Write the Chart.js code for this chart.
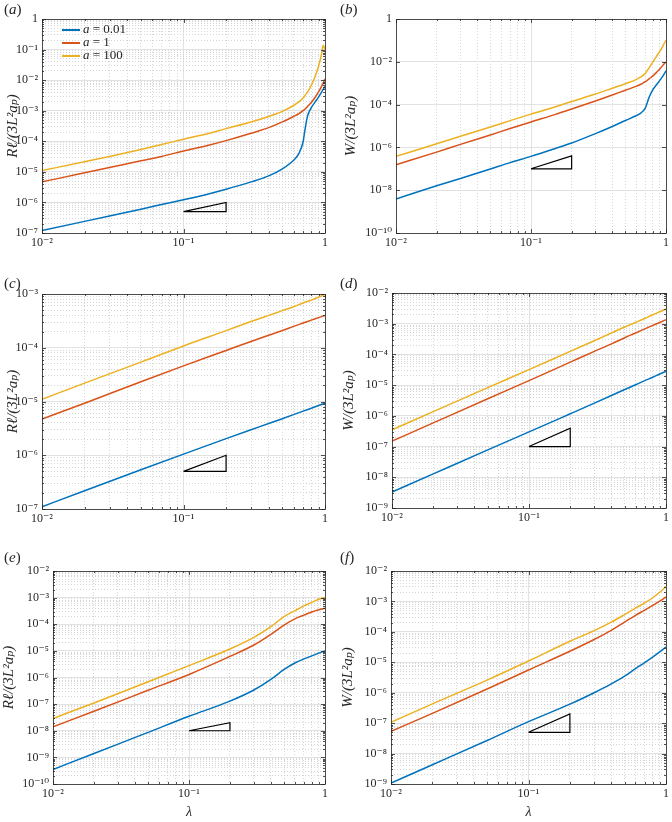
<!DOCTYPE html>
<html lang="en">
<head>
<meta charset="UTF-8">
<title>R and W versus lambda</title>
<script src="https://cdn.jsdelivr.net/npm/chart.js@4.4.1/dist/chart.umd.min.js"></script>
<style>
    body { margin: 0; background: #fff; }
    #fig { position: relative; width: 672px; height: 822px; font-family: 'Liberation Serif', 'DejaVu Serif', serif; color: #262626; }
    .panel { position: absolute; width: 336px; height: 274px; }
    .tag { position: absolute; font-size: 15px; line-height: 15px; }
    .legend { position: absolute; font-size: 13px; line-height: 13px; }
    .legend div { height: 13px; white-space: nowrap; }
    .legend span.sw { display: inline-block; width: 18px; height: 1.5px; vertical-align: middle; margin-right: 3px; }
</style>
</head>
<body>
<div id="fig"></div>
<script>
    // lambda samples
    const lamFine = [0.01, 0.02, 0.03, 0.05, 0.07, 0.1, 0.15, 0.2, 0.3, 0.4, 0.5, 0.6, 0.65, 0.7, 0.72, 0.75, 0.8, 0.85, 0.9, 0.95, 0.97, 1];
    const lamCoarse = [0.01, 0.02, 0.05, 0.1, 0.2, 0.3, 0.4, 0.5, 0.6, 0.7, 0.8, 0.9, 1];

    const aValues = ['0.01', '1', '100'];
    const seriesColors = ['#0072BD', '#D95319', '#EDB120'];

    // (a) R l/(3L^2 a_p), lamFine
    const aBlue = [1.2e-7, 2.4e-7, 3.6e-7, 6.0e-7, 8.5e-7, 1.23e-6, 1.9e-6, 2.7e-6, 4.7e-6, 7.4e-6, 1.26e-5, 2.4e-5, 3.8e-5, 9.5e-5, 2.2e-4, 6.3e-4, 1.26e-3, 1.9e-3, 2.8e-3, 4.2e-3, 5.0e-3, 6.3e-3];
    const aRed = [4.7e-6, 9.3e-6, 1.38e-5, 2.3e-5, 3.2e-5, 4.8e-5, 7.4e-5, 1.05e-4, 1.82e-4, 2.8e-4, 4.3e-4, 6.5e-4, 7.9e-4, 1.0e-3, 1.12e-3, 1.35e-3, 1.86e-3, 2.7e-3, 4.1e-3, 6.5e-3, 7.9e-3, 1.1e-2];
    const aYellow = [1.1e-5, 2.15e-5, 3.2e-5, 5.4e-5, 7.8e-5, 1.17e-4, 1.8e-4, 2.6e-4, 4.3e-4, 6.5e-4, 9.5e-4, 1.48e-3, 1.9e-3, 2.6e-3, 3.1e-3, 4.0e-3, 6.8e-3, 1.3e-2, 2.8e-2, 7.9e-2, 0.138, 0.1];

    // (b) W/(3L^2 a_p), lamFine
    const bBlue = [3.9e-9, 1.6e-8, 3.5e-8, 9.8e-8, 1.95e-7, 3.8e-7, 8.7e-7, 1.6e-6, 4.4e-6, 9.5e-6, 1.8e-5, 3.0e-5, 4.0e-5, 6.6e-5, 1.05e-4, 2.2e-4, 5.0e-4, 8.5e-4, 1.35e-3, 2.2e-3, 2.75e-3, 3.8e-3];
    const bRed = [1.55e-7, 6.0e-7, 1.38e-6, 3.8e-6, 7.6e-6, 1.55e-5, 3.4e-5, 6.2e-5, 1.48e-4, 2.8e-4, 4.7e-4, 7.1e-4, 8.9e-4, 1.18e-3, 1.3e-3, 1.6e-3, 2.2e-3, 3.2e-3, 4.6e-3, 7.0e-3, 8.1e-3, 9.8e-3];
    const bYellow = [3.8e-7, 1.48e-6, 3.3e-6, 8.9e-6, 1.78e-5, 3.6e-5, 7.7e-5, 1.4e-4, 3.1e-4, 5.8e-4, 9.5e-4, 1.48e-3, 1.95e-3, 2.8e-3, 3.6e-3, 5.2e-3, 1.0e-2, 1.8e-2, 3.1e-2, 5.6e-2, 7.3e-2, 0.1];

    // (c) lamCoarse
    const cBlue = [1.1e-7, 2.19e-7, 5.37e-7, 1.05e-6, 2.04e-6, 2.99e-6, 3.89e-6, 4.79e-6, 5.69e-6, 6.61e-6, 7.5e-6, 8.41e-6, 9.33e-6];
    const cRed = [4.7e-6, 9.3e-6, 2.33e-5, 4.6e-5, 8.9e-5, 1.31e-4, 1.71e-4, 2.1e-4, 2.5e-4, 2.88e-4, 3.26e-4, 3.63e-4, 4.0e-4];
    const cYellow = [1.1e-5, 2.2e-5, 5.4e-5, 1.08e-4, 2.08e-4, 3.07e-4, 4.0e-4, 4.9e-4, 5.8e-4, 6.8e-4, 7.7e-4, 8.7e-4, 9.8e-4];

    // (d) lamCoarse
    const dBlue = [3.3e-9, 1.29e-8, 7.8e-8, 3.0e-7, 1.17e-6, 2.6e-6, 4.6e-6, 7.2e-6, 1.03e-5, 1.4e-5, 1.8e-5, 2.3e-5, 2.8e-5];
    const dRed = [1.5e-7, 5.9e-7, 3.6e-6, 1.4e-5, 5.6e-5, 1.26e-4, 2.2e-4, 3.5e-4, 5.0e-4, 6.8e-4, 8.8e-4, 1.1e-3, 1.35e-3];
    const dYellow = [3.5e-7, 1.38e-6, 8.3e-6, 3.2e-5, 1.26e-4, 2.8e-4, 5.0e-4, 7.8e-4, 1.1e-3, 1.48e-3, 1.95e-3, 2.45e-3, 3.0e-3];

    // (e) lamCoarse
    const eBlue = [3.5e-10, 1.4e-9, 8.7e-9, 3.5e-8, 1.3e-7, 3.4e-7, 8.5e-7, 2.0e-6, 3.5e-6, 5.0e-6, 6.5e-6, 8.2e-6, 1.0e-5];
    const eRed = [1.4e-8, 5.4e-8, 3.3e-7, 1.3e-6, 6.2e-6, 1.66e-5, 4.2e-5, 9.3e-5, 1.6e-4, 2.2e-4, 2.9e-4, 3.5e-4, 4.0e-4];
    const eYellow = [2.9e-8, 1.1e-7, 6.9e-7, 2.8e-6, 1.17e-5, 3.2e-5, 8.1e-5, 1.95e-4, 3.2e-4, 4.9e-4, 6.6e-4, 8.7e-4, 1.02e-3];

    // (f) lamCoarse
    const fBlue = [1.07e-9, 4.3e-9, 2.7e-8, 1.12e-7, 4.2e-7, 1.0e-6, 1.95e-6, 3.5e-6, 6.2e-6, 9.8e-6, 1.48e-5, 2.2e-5, 3.2e-5];
    const fRed = [5.4e-8, 2.1e-7, 1.32e-6, 5.6e-6, 2.3e-5, 5.6e-5, 1.12e-4, 2.1e-4, 3.5e-4, 5.2e-4, 7.4e-4, 1.02e-3, 1.4e-3];
    const fYellow = [1.07e-7, 4.3e-7, 2.6e-6, 1.1e-5, 4.9e-5, 1.1e-4, 2.1e-4, 3.7e-4, 6.0e-4, 9.0e-4, 1.32e-3, 2.0e-3, 3.1e-3];

    // slope triangles
    const triX = [0.1, 0.2, 0.2, 0.1];
    const triA = [5e-7, 5e-7, 1e-6, 5e-7];
    const triB = [1e-7, 1e-7, 4e-7, 1e-7];
    const triC = [5e-7, 5e-7, 1e-6, 5e-7];
    const triD = [1e-7, 1e-7, 4e-7, 1e-7];
    const triE = [1e-8, 1e-8, 2e-8, 1e-8];
    const triF = [5e-8, 5e-8, 2e-7, 5e-8];

    const yTitleR = 'Rℓ/(3L²aₚ)';
    const yTitleW = 'W/(3L²aₚ)';
    const xTitle = 'λ';

    // panel layout: page position, plot box inside the 336x274 canvas
    const panels = [
        { id: 'a', px: 0, py: 0, L: 42, T: 19, R: 325, B: 233, tp: 4, lam: lamFine, ys: [aBlue, aRed, aYellow], tri: triA, yExp: [-7, 0], yStep: 1, yTitle: yTitleR, xt: false },
        { id: 'b', px: 336, py: 0, L: 60, T: 19, R: 330, B: 233, tp: 6, lam: lamFine, ys: [bBlue, bRed, bYellow], tri: triB, yExp: [-10, 0], yStep: 2, yTitle: yTitleW, xt: false },
        { id: 'c', px: 0, py: 274, L: 42, T: 20, R: 325, B: 235, tp: 4, lam: lamCoarse, ys: [cBlue, cRed, cYellow], tri: triC, yExp: [-7, -3], yStep: 1, yTitle: yTitleR, xt: false },
        { id: 'd', px: 336, py: 274, L: 56, T: 19, R: 330, B: 234, tp: 4, lam: lamCoarse, ys: [dBlue, dRed, dYellow], tri: triD, yExp: [-9, -2], yStep: 1, yTitle: yTitleW, xt: false },
        { id: 'e', px: 0, py: 548, L: 53, T: 23, R: 325, B: 236, tp: 0, lam: lamCoarse, ys: [eBlue, eRed, eYellow], tri: triE, yExp: [-10, -2], yStep: 1, yTitle: yTitleR, xt: true },
        { id: 'f', px: 336, py: 548, L: 55, T: 23, R: 330, B: 236, tp: 3, lam: lamCoarse, ys: [fBlue, fRed, fYellow], tri: triF, yExp: [-9, -2], yStep: 1, yTitle: yTitleW, xt: true }
    ];

    const W = 336, H = 274;
    const serif = "'Liberation Serif', 'DejaVu Serif', serif";
    const ink = '#262626';

    function sup(n) {
        const m = { '-': '⁻', '0': '⁰', '1': '¹', '2': '²', '3': '³', '4': '⁴', '5': '⁵', '6': '⁶', '7': '⁷', '8': '⁸', '9': '⁹' };
        return String(n).split('').map(c => m[c]).join('');
    }
    function isDecade(v) {
        const l = Math.log10(v);
        return Math.abs(l - Math.round(l)) < 1e-6;
    }
    function decadeLabel(v) {
        if (!isDecade(v)) return '';
        const e = Math.round(Math.log10(v));
        return e === 0 ? '1' : '10' + sup(e);
    }
    function logTicks(e0, e1, step, minor) {
        const t = [];
        for (let e = e0; e <= e1; e++) {
            const base = Math.pow(10, e);
            if ((e - e0) % step === 0) t.push({ value: base });
            if (minor && e < e1) {
                for (let m = 2; m <= 9; m++) t.push({ value: m * base });
            }
        }
        return t;
    }

    const gridColor = ctx => (ctx.tick && !isDecade(ctx.tick.value)) ? '#d6d6d6' : '#e2e2e2';
    const gridDash = ctx => (ctx.tick && !isDecade(ctx.tick.value)) ? [1, 2] : [];

    // axes box with inward tick marks
    const boxPlugin = {
        id: 'box',
        afterDraw(chart) {
            const { ctx, chartArea: a, scales } = chart;
            ctx.save();
            ctx.strokeStyle = ink;
            ctx.lineWidth = 0.8;
            ctx.beginPath();
            scales.x.ticks.forEach(t => {
                const p = Math.round(scales.x.getPixelForValue(t.value)) + 0.5;
                const len = isDecade(t.value) ? 4 : 2;
                ctx.moveTo(p, a.bottom); ctx.lineTo(p, a.bottom - len);
                ctx.moveTo(p, a.top); ctx.lineTo(p, a.top + len);
            });
            scales.y.ticks.forEach(t => {
                const p = Math.round(scales.y.getPixelForValue(t.value)) + 0.5;
                const len = isDecade(t.value) ? 4 : 2;
                ctx.moveTo(a.left, p); ctx.lineTo(a.left + len, p);
                ctx.moveTo(a.right, p); ctx.lineTo(a.right - len, p);
            });
            ctx.stroke();
            ctx.strokeRect(Math.round(a.left) + 0.5, Math.round(a.top) + 0.5, Math.round(a.right - a.left), Math.round(a.bottom - a.top));
            ctx.restore();
        }
    };

    const fig = document.getElementById('fig');

    function makeChart(p) {
        const holder = document.createElement('div');
        holder.className = 'panel';
        holder.style.left = p.px + 'px';
        holder.style.top = p.py + 'px';
        const canvas = document.createElement('canvas');
        canvas.width = W;
        canvas.height = H;
        holder.appendChild(canvas);
        fig.appendChild(holder);

        const tag = document.createElement('div');
        tag.className = 'tag';
        tag.style.left = (p.px + 4) + 'px';
        tag.style.top = (p.py + 2) + 'px';
        tag.innerHTML = '(<i>' + p.id + '</i>)';
        fig.appendChild(tag);

        const datasets = p.ys.map((vals, i) => ({
            label: 'a = ' + aValues[i],
            data: p.lam.map((x, j) => ({ x: x, y: vals[j] })),
            borderColor: seriesColors[i],
            borderWidth: 1.5,
            pointRadius: 0,
            cubicInterpolationMode: 'monotone',
            fill: false
        }));
        datasets.push({
            label: 'slope',
            data: triX.map((x, j) => ({ x: x, y: p.tri[j] })),
            borderColor: '#000',
            borderWidth: 1.2,
            pointRadius: 0,
            tension: 0,
            fill: false
        });

        new Chart(canvas, {
            type: 'line',
            data: { datasets: datasets },
            options: {
                responsive: false,
                animation: false,
                layout: { padding: { top: p.T, right: W - p.R, left: 0, bottom: 0 } },
                plugins: { legend: { display: false }, tooltip: { enabled: false } },
                scales: {
                    x: {
                        type: 'logarithmic',
                        min: 0.01,
                        max: 1,
                        afterBuildTicks: s => { s.ticks = logTicks(-2, 0, 1, true); },
                        afterFit: s => { s.height = H - p.B; },
                        ticks: {
                            autoSkip: false, maxRotation: 0, padding: 3, color: ink,
                            font: { family: serif, size: 12 },
                            callback: v => decadeLabel(v)
                        },
                        grid: { color: gridColor, lineWidth: 1, drawTicks: false },
                        border: { display: false, dash: gridDash },
                        title: {
                            display: p.xt, text: xTitle, color: ink,
                            font: { family: serif, size: 14, style: 'italic' },
                            padding: { top: 0, bottom: 1 }
                        }
                    },
                    y: {
                        type: 'logarithmic',
                        min: Math.pow(10, p.yExp[0]),
                        max: Math.pow(10, p.yExp[1]),
                        afterBuildTicks: s => { s.ticks = logTicks(p.yExp[0], p.yExp[1], p.yStep, p.yStep === 1); },
                        afterFit: s => { s.width = p.L; },
                        ticks: {
                            autoSkip: false, padding: 4, color: ink,
                            font: { family: serif, size: 12 },
                            callback: v => decadeLabel(v)
                        },
                        grid: { color: gridColor, lineWidth: 1, drawTicks: false },
                        border: { display: false, dash: gridDash },
                        title: {
                            display: true, text: p.yTitle, color: ink,
                            font: { family: serif, size: 15, style: 'italic' },
                            padding: { top: p.tp, bottom: 0 }
                        }
                    }
                }
            },
            plugins: [boxPlugin]
        });
    }

    panels.forEach(makeChart);

    // legend inside panel (a)
    const legend = document.createElement('div');
    legend.className = 'legend';
    legend.style.left = '62px';
    legend.style.top = '22px';
    aValues.forEach((v, i) => {
        const row = document.createElement('div');
        row.innerHTML = '<span class="sw" style="background:' + seriesColors[i] + '"></span><i>a</i> = ' + v;
        legend.appendChild(row);
    });
    fig.appendChild(legend);
</script>
</body>
</html>
